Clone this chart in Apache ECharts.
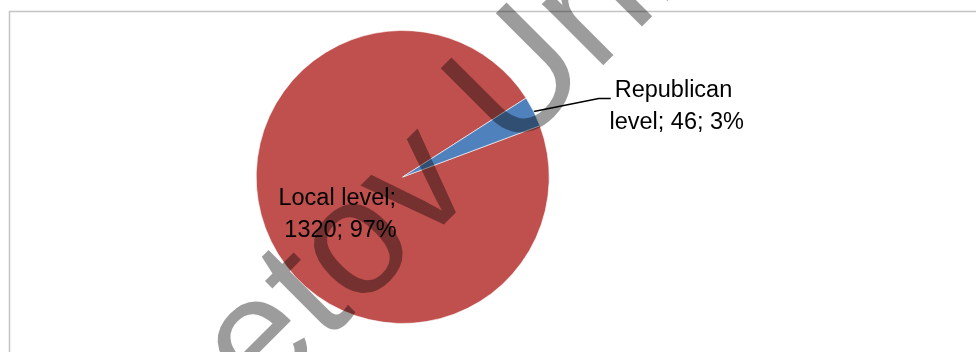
<!DOCTYPE html>
<html><head><meta charset="utf-8">
<script src="https://cdn.jsdelivr.net/npm/echarts@6/dist/echarts.min.js"></script>
<style>html,body{margin:0;padding:0;background:#fff}#c{width:976px;height:352px}</style>
</head><body><div id="c"></div>
<script>
const categories = ['Local level', 'Republican level'];
const values = [1320, 46];
const colors = ['#C0504D', '#4F81BD'];
const watermarkText = 'etov Uni';

const chart = echarts.init(document.getElementById('c'), null, {renderer: 'canvas'});
const CX = 402.7, CY = 177, R = 146.5, START = 20.5;
const WM_F = 164;
const wmBase = [268.3, 416.7];
const wmK = 0.3465 * WM_F * Math.SQRT1_2;
const total = values.reduce((a, b) => a + b, 0);

function edgePoint(idx) {
  let before = 0;
  for (let i = 0; i < idx; i++) before += values[i];
  const mid = (START - (before + values[idx] / 2) / total * 360) * Math.PI / 180;
  return [CX + R * Math.cos(mid), CY - R * Math.sin(mid)];
}

const option = {
  animation: false,
  backgroundColor: '#fff',
  graphic: [
    {type: 'rect', z: -10, shape: {x: 9.5, y: 11.5, width: 1000, height: 400},
     style: {fill: 'none', stroke: '#c4c4c4', lineWidth: 1.5}},
    {type: 'text', z: 100, x: wmBase[0] - wmK, y: wmBase[1] - wmK, rotation: Math.PI / 4,
     style: {text: watermarkText, font: WM_F + 'px "Liberation Sans"', fill: 'rgba(0,0,0,0.39)',
             align: 'left', verticalAlign: 'middle'}}
  ],
  series: [{
    type: 'pie',
    center: [CX, CY],
    radius: R,
    startAngle: START,
    clockwise: true,
    avoidLabelOverlap: false,
    itemStyle: {borderColor: '#fff', borderWidth: 0.6},
    emphasis: {disabled: true},
    label: {
      formatter: p => p.name + '; ' + p.value + '; ' + Math.round(p.percent) + '%',
      fontFamily: 'Liberation Sans', fontSize: 23.5, lineHeight: 32, color: '#000',
      width: 140, overflow: 'break', align: 'center'
    },
    labelLine: {show: true, lineStyle: {color: '#000', width: 1.6}},
    labelLayout: function (params) {
      if (params.dataIndex === 0) return {dx: 6, dy: 3};
      const p0 = (params.labelLinePoints && params.labelLinePoints[0]) || edgePoint(1);
      return {
        x: p0[0] + 143, y: p0[1] - 5, align: 'center', verticalAlign: 'middle',
        labelLinePoints: [p0, [p0[0] + 65, p0[1] - 13], [p0[0] + 77, p0[1] - 13]]
      };
    },
    data: categories.map((n, i) => ({
      name: n, value: values[i], itemStyle: {color: colors[i]},
      label: {position: i === 0 ? 'inside' : 'outside'},
      labelLine: {show: i !== 0}
    }))
  }]
};
chart.setOption(option);
</script></body></html>
